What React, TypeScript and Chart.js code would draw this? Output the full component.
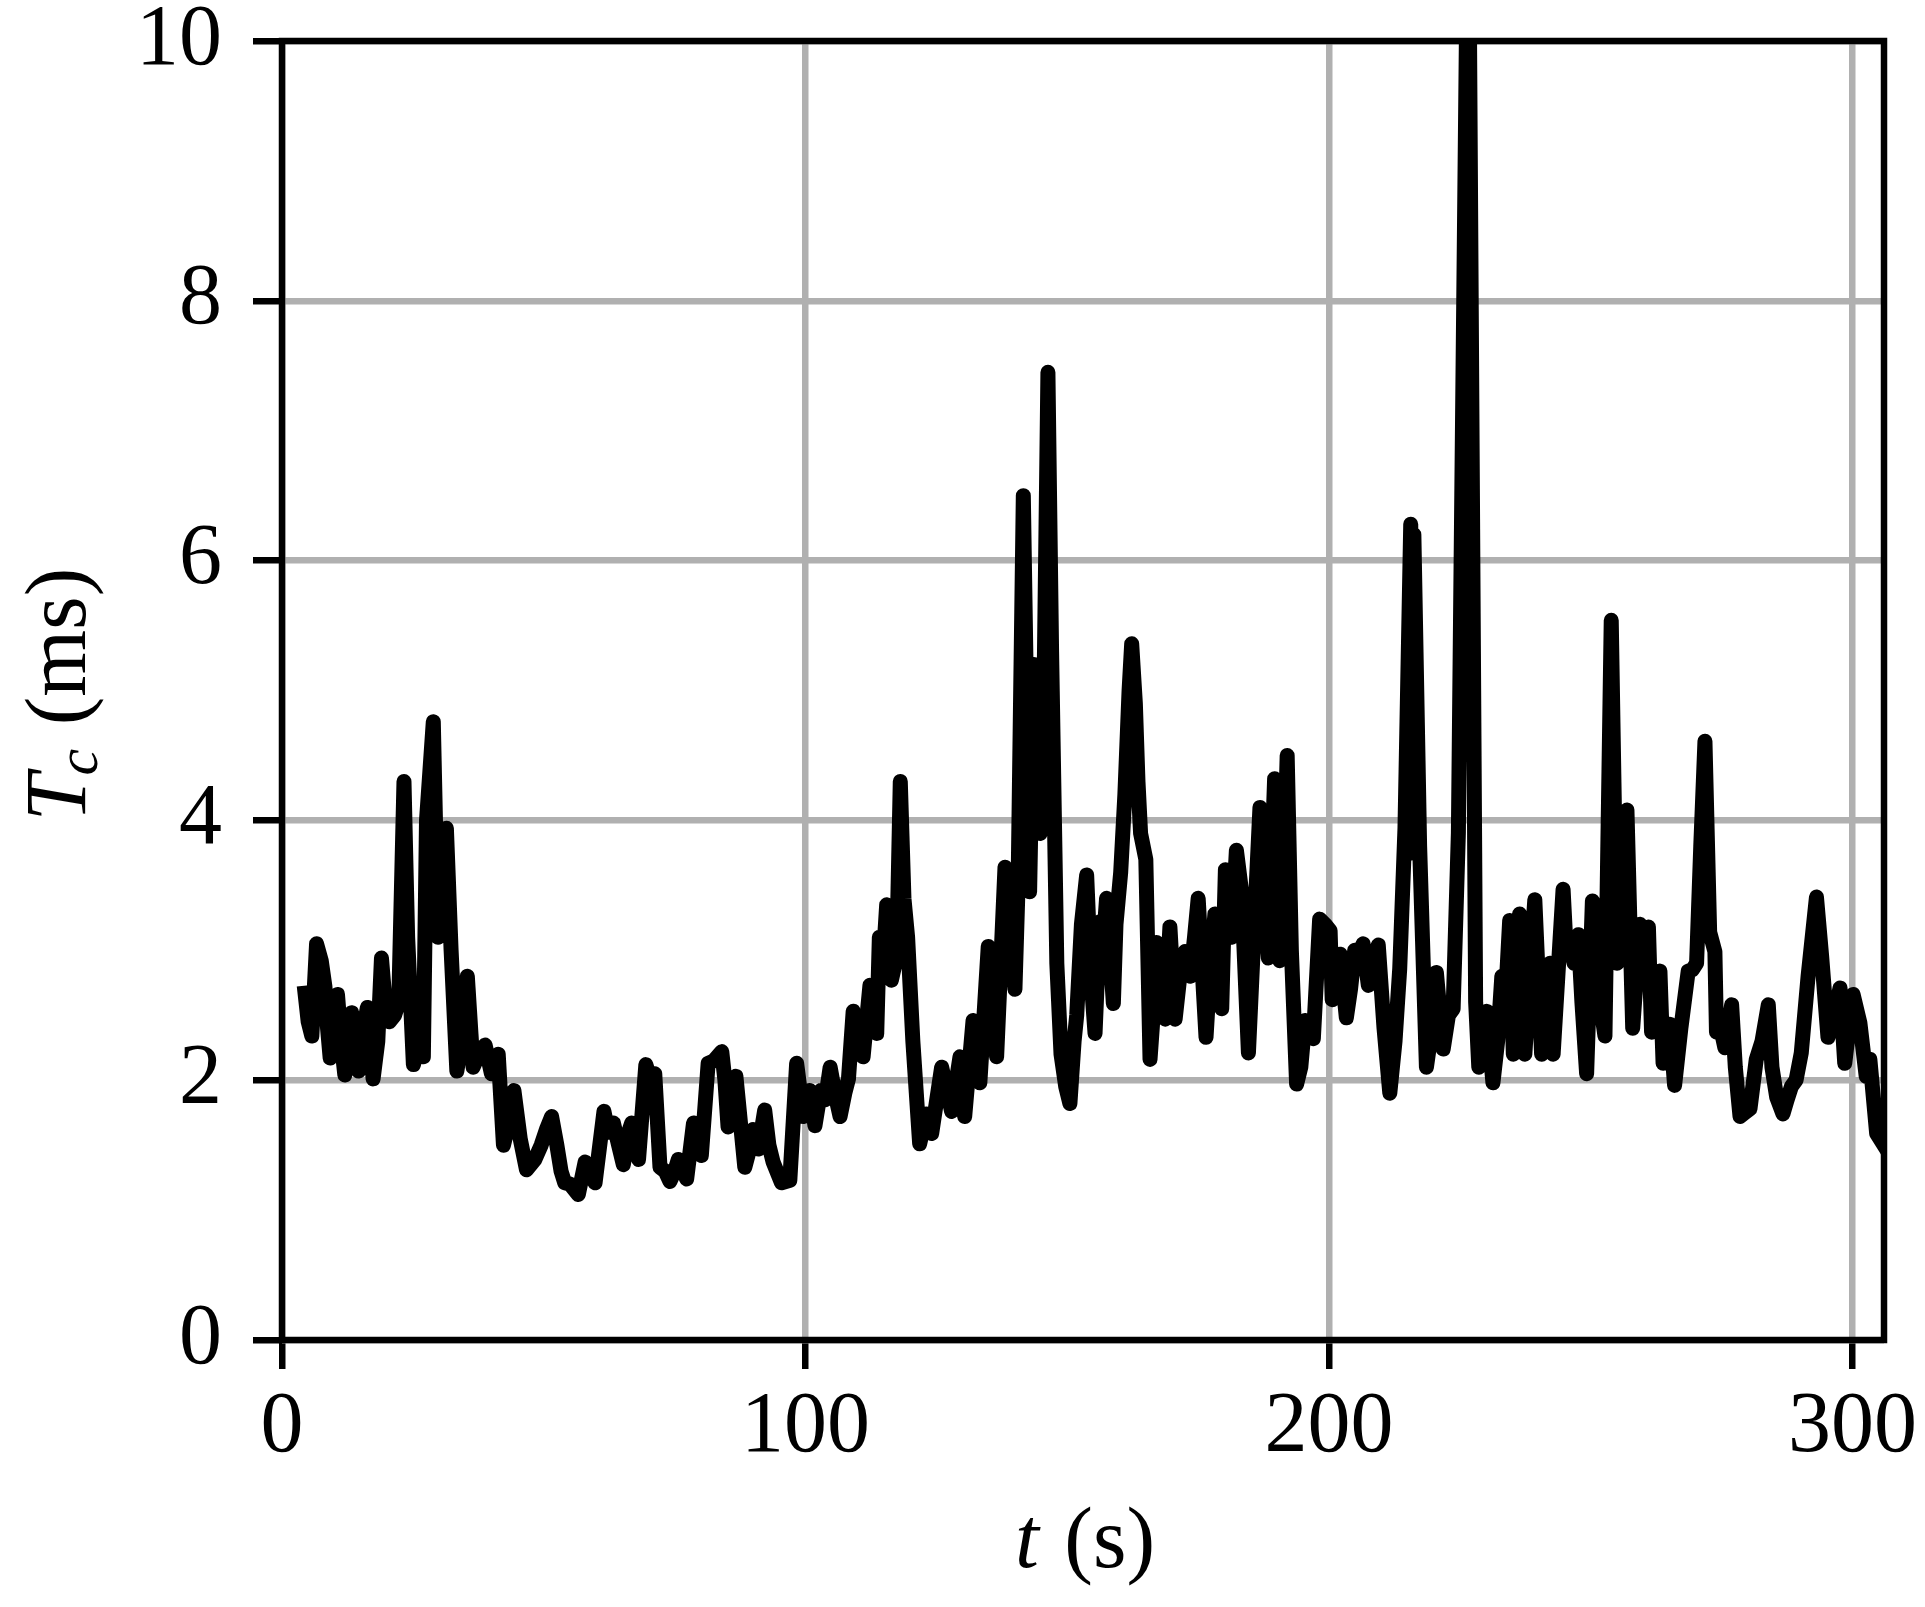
import React, { useEffect, useRef } from "react";
import { Chart, registerables } from "chart.js";

Chart.register(...registerables);

// ---- data ----
const timeSec: number[] = [
  4.4, 5.0, 5.7, 6.6, 7.5, 8.2, 8.7, 9.2, 9.9, 10.6, 11.3, 12.0, 12.7, 13.3, 14.0, 14.6, 15.4, 16.3, 16.9, 17.4,
  18.3, 19.0, 19.7, 20.5, 21.5, 22.3, 23.3, 24.0, 25.1, 26.0, 27.0, 27.6, 28.9, 29.8, 30.5, 31.4, 32.3, 33.4, 34.5, 35.4,
  36.5, 37.6, 38.8, 40.0, 41.3, 42.3, 43.2, 44.3, 45.5, 46.7,
  48.3, 49.5, 50.5, 51.5, 52.5, 53.3, 54.0, 55.0, 56.6, 57.9, 58.8, 59.8, 61.5, 62.3, 63.3, 64.3, 65.2, 66.2, 66.8, 68.1,
  69.5, 70.4, 71.2, 72.2, 73.2, 74.1, 75.0, 75.7, 77.3, 78.6, 79.4, 80.1, 81.4, 82.5, 84.0, 84.6, 85.2, 86.7, 88.4, 89.2,
  90.0, 91.0, 92.2, 93.0, 93.8, 95.4, 97.0, 98.3, 99.6, 100.8, 101.8, 102.9, 103.8, 104.7,
  105.6, 106.6, 107.5, 108.2, 109.1, 110.0, 111.0, 112.3, 113.0, 113.6, 114.1, 114.8, 115.5, 116.4, 117.4, 118.1, 118.8, 119.5, 120.5, 121.8,
  123.1, 124.1, 126.0, 127.9, 129.5, 130.4, 132.0, 133.3, 134.9, 136.5, 138.1, 138.8, 140.0, 140.6,
  141.6, 142.8, 143.6, 144.2, 144.8, 145.4, 146.3, 147.0, 148.0, 148.8, 149.7, 150.5, 151.3, 151.8, 152.7, 153.7, 154.5, 155.3, 156.2, 156.8,
  157.5, 158.3, 158.8, 159.3, 160.2, 161.0, 161.8, 162.3, 163.0, 163.5, 164.0, 165.0, 165.8, 166.4, 167.0, 167.7, 168.3, 168.7, 169.6, 170.6,
  171.5, 172.5, 173.5, 174.3, 175.0, 176.5, 177.2, 178.2, 179.5, 180.2, 181.4, 182.3, 183.3, 184.6,
  185.5, 186.8, 187.5, 188.4, 189.6, 190.6, 191.3, 192.0, 192.8, 193.8, 194.6, 195.4, 196.2, 197.0, 198.2, 199.2, 200.2, 200.6, 201.4, 202.1,
  203.3, 204.1, 204.9, 205.7, 206.5, 207.5, 208.5, 209.4, 210.5, 211.6, 212.6, 213.5, 214.5, 215.6, 215.9, 216.2, 217.3, 218.6, 219.3, 220.5,
  221.8, 222.8, 223.7, 224.7, 226.6, 228.0, 228.6,
  229.3, 230.1, 231.3, 232.2, 233.0, 233.8, 234.5, 235.2, 236.4, 237.4, 238.3, 239.3, 240.6, 241.5, 242.2, 242.8, 243.7, 244.7, 245.3, 246.0,
  246.8, 247.6, 248.3, 249.2, 250.3, 251.4, 252.7, 253.9, 255.0, 255.8, 256.9, 257.6, 258.0, 259.4, 260.3, 261.0, 261.6, 262.4, 263.2, 263.8,
  264.5, 265.1, 266.0, 267.2, 268.6, 269.4, 270.2, 271.0, 271.8, 272.7, 273.7, 274.0, 274.8, 275.6, 276.9, 277.6, 278.5, 279.4, 280.4, 281.6,
  282.7, 283.9, 284.6, 285.5, 286.7, 287.5, 288.3, 289.2, 290.2, 291.5, 293.1, 294.1, 295.3, 296.5, 297.6, 298.5, 299.3, 300.1, 301.4, 302.6,
  303.3, 304.6, 306.0,
];

const tcMs: number[] = [
  2.67, 2.45, 2.34, 3.05, 2.92, 2.72, 2.40, 2.17, 2.45, 2.66, 2.30, 2.04, 2.30, 2.52, 2.25, 2.07, 2.35, 2.56, 2.25, 2.01,
  2.30, 2.94, 2.60, 2.45, 2.50, 2.60, 4.30, 3.10, 2.12, 2.25, 2.18, 4.00, 4.76, 3.10, 3.15, 3.94, 3.00, 2.07, 2.35, 2.80,
  2.10, 2.20, 2.27, 2.05, 2.20, 1.50, 1.65, 1.92, 1.55, 1.31,
  1.39, 1.50, 1.62, 1.72, 1.50, 1.30, 1.21, 1.20, 1.12, 1.37, 1.30, 1.21, 1.76, 1.60, 1.67, 1.50, 1.35, 1.60, 1.67, 1.39,
  2.12, 2.00, 2.05, 1.33, 1.30, 1.22, 1.30, 1.39, 1.24, 1.67, 1.55, 1.42, 2.13, 2.15, 2.22, 2.00, 1.64, 2.03, 1.33, 1.45,
  1.62, 1.47, 1.77, 1.50, 1.37, 1.21, 1.23, 2.13, 1.72, 1.92, 1.65, 1.92, 1.85, 2.10,
  1.90, 1.72, 1.90, 2.01, 2.53, 2.30, 2.18, 2.73, 2.50, 2.36, 3.10, 2.90, 3.35, 2.77, 2.95, 4.30, 3.40, 3.10, 2.30, 1.51,
  1.74, 1.59, 2.10, 1.76, 2.18, 1.72, 2.46, 1.98, 3.03, 2.18, 3.64, 3.45, 2.70, 3.50,
  6.50, 3.45, 5.20, 4.00, 3.90, 4.50, 7.45, 5.30, 2.90, 2.20, 1.95, 1.82, 2.30, 2.50, 3.20, 3.58, 2.80, 2.36, 3.22, 3.00,
  3.40, 2.90, 2.59, 3.20, 3.60, 4.20, 5.00, 5.36, 4.90, 4.30, 3.90, 3.70, 2.16, 2.50, 3.06, 2.90, 2.99, 2.47, 3.18, 2.47,
  2.80, 2.99, 2.80, 3.10, 3.40, 2.33, 2.80, 3.28, 2.55, 3.62, 3.10, 3.77, 3.45, 2.21,
  3.00, 4.10, 3.60, 2.94, 4.32, 2.92, 3.50, 4.50, 3.00, 1.97, 2.10, 2.46, 2.40, 2.32, 3.24, 3.20, 3.15, 2.62, 2.80, 2.97,
  2.48, 2.70, 3.00, 2.95, 3.05, 2.73, 2.90, 3.04, 2.40, 1.90, 2.30, 2.86, 3.94, 6.28, 3.75, 6.20, 3.80, 2.10, 2.30, 2.83,
  2.24, 2.50, 2.55, 3.90, 11.5, 2.60, 2.10,
  2.30, 2.53, 1.98, 2.30, 2.80, 2.70, 3.23, 2.20, 3.28, 2.20, 2.80, 3.39, 2.20, 2.60, 2.90, 2.20, 2.80, 3.47, 3.00, 3.07,
  2.90, 3.12, 2.60, 2.05, 3.38, 2.70, 2.34, 5.54, 2.90, 3.30, 4.08, 3.00, 2.40, 3.20, 3.15, 3.18, 2.37, 2.60, 2.84, 2.13,
  2.30, 2.43, 1.96, 2.40, 2.84, 2.85, 2.90, 3.80, 4.61, 3.14, 2.99, 2.37, 2.40, 2.25, 2.58, 2.10, 1.72, 1.75, 1.78, 2.16,
  2.30, 2.58, 2.10, 1.87, 1.74, 1.85, 1.95, 2.00, 2.21, 2.80, 3.41, 2.95, 2.33, 2.50, 2.71, 2.13, 2.40, 2.66, 2.44, 2.03,
  2.16, 1.59, 1.50,
];

const xTickValues: number[] = [0, 100, 200, 300];
const yTickValues: number[] = [0, 2, 4, 6, 8, 10];
const xLimits: number[] = [0, 306];
const yLimits: number[] = [0, 10];
const xTitleMain = "t";
const xTitleUnit = " (s)";
const yTitleMain = "T";
const yTitleSub = "c";
const yTitleUnit = " (ms)";

// ---- layout / style ----
const W = 1925;
const H = 1607;
const PLOT_LEFT = 282;
const PLOT_TOP = 41;
const PLOT_RIGHT = 1884;
const PLOT_BOTTOM = 1340;
const SERIF = "'Liberation Serif', 'Times New Roman', serif";
const TICK_FONT_SIZE = 86;
const TITLE_FONT_SIZE = 86;

const framePlugin = {
  id: "frame",
  afterDatasetsDraw(chart: any) {
    const { ctx, chartArea: a } = chart;
    ctx.save();
    ctx.strokeStyle = "#000";
    ctx.lineWidth = 6.5;
    ctx.lineJoin = "miter";
    ctx.strokeRect(a.left, a.top, a.right - a.left, a.bottom - a.top);
    ctx.restore();
  },
};

const titlePlugin = {
  id: "titles",
  afterDraw(chart: any) {
    const { ctx, chartArea: a } = chart;
    ctx.save();
    ctx.fillStyle = "#000";
    ctx.textBaseline = "alphabetic";
    ctx.textAlign = "left";
    const it = `italic ${TITLE_FONT_SIZE}px ${SERIF}`;
    const rg = `${TITLE_FONT_SIZE}px ${SERIF}`;
    const sub = `italic ${Math.round(TITLE_FONT_SIZE * 0.7)}px ${SERIF}`;

    // x title
    ctx.font = it;
    const w1 = ctx.measureText(xTitleMain).width;
    ctx.font = rg;
    const w2 = ctx.measureText(xTitleUnit).width;
    const x0 = (a.left + a.right) / 2 - (w1 + w2) / 2;
    const by = a.bottom + 227;
    ctx.font = it;
    ctx.fillText(xTitleMain, x0, by);
    ctx.font = rg;
    ctx.fillText(xTitleUnit, x0 + w1 + 4, by);

    // y title (rotated)
    ctx.font = it;
    const wT = ctx.measureText(yTitleMain).width;
    ctx.font = sub;
    const wc = ctx.measureText(yTitleSub).width;
    ctx.font = rg;
    const wu = ctx.measureText(yTitleUnit).width;
    const total = wT + wc + wu;
    ctx.translate(85, (a.top + a.bottom) / 2 + 4);
    ctx.rotate(-Math.PI / 2);
    const s = -total / 2;
    ctx.font = it;
    ctx.fillText(yTitleMain, s, 0);
    ctx.font = sub;
    ctx.fillText(yTitleSub, s + wT - 2, 12);
    ctx.font = rg;
    ctx.fillText(yTitleUnit, s + wT + wc, 0);
    ctx.restore();
  },
};

export default function App() {
  const canvasRef = useRef<HTMLCanvasElement | null>(null);

  useEffect(() => {
    const canvas = canvasRef.current;
    if (!canvas) return;
    const points = timeSec.map((t, i) => ({ x: t, y: tcMs[i] }));
    const tickFont = { family: SERIF, size: TICK_FONT_SIZE };
    const chart = new Chart(canvas, {
      type: "line",
      data: {
        datasets: [
          {
            data: points,
            borderColor: "#000000",
            borderWidth: 15,
            pointRadius: 0,
            pointHoverRadius: 0,
            tension: 0,
            fill: false,
            borderJoinStyle: "round",
            borderCapStyle: "square",
            clip: 0,
          } as any,
        ],
      },
      options: {
        animation: false,
        responsive: false,
        devicePixelRatio: 1,
        events: [],
        layout: { padding: { left: 0, top: PLOT_TOP, right: W - PLOT_RIGHT, bottom: 0 } },
        plugins: { legend: { display: false }, tooltip: { enabled: false } },
        scales: {
          x: {
            type: "linear",
            min: xLimits[0],
            max: xLimits[1],
            afterBuildTicks: (s: any) => {
              s.ticks = xTickValues.map((v) => ({ value: v }));
            },
            afterFit: (s: any) => {
              s.height = H - PLOT_BOTTOM;
              s.paddingLeft = 0;
              s.paddingRight = 0;
            },
            border: { display: false },
            grid: {
              color: "#b0b0b0",
              lineWidth: 6.5,
              drawTicks: true,
              tickLength: 29,
              tickWidth: 6.5,
              tickColor: "#000000",
            },
            ticks: {
              font: tickFont,
              color: "#000000",
              padding: 8,
              maxRotation: 0,
              autoSkip: false,
              callback: (v: any) => String(v),
            },
          },
          y: {
            type: "linear",
            min: yLimits[0],
            max: yLimits[1],
            afterBuildTicks: (s: any) => {
              s.ticks = yTickValues.map((v) => ({ value: v }));
            },
            afterFit: (s: any) => {
              s.width = PLOT_LEFT;
              s.paddingTop = 0;
              s.paddingBottom = 0;
            },
            border: { display: false },
            grid: {
              color: "#b0b0b0",
              lineWidth: 6.5,
              drawTicks: true,
              tickLength: 29,
              tickWidth: 6.5,
              tickColor: "#000000",
            },
            ticks: {
              font: tickFont,
              color: "#000000",
              padding: 31,
              autoSkip: false,
              callback: (v: any) => String(v),
            },
          },
        },
      } as any,
      plugins: [framePlugin, titlePlugin],
    });
    return () => chart.destroy();
  }, []);

  return (
    <div style={{ position: "absolute", left: 0, top: 0, width: W, height: H, background: "#fff" }}>
      <canvas ref={canvasRef} width={W} height={H} style={{ display: "block", width: W, height: H }} />
    </div>
  );
}
